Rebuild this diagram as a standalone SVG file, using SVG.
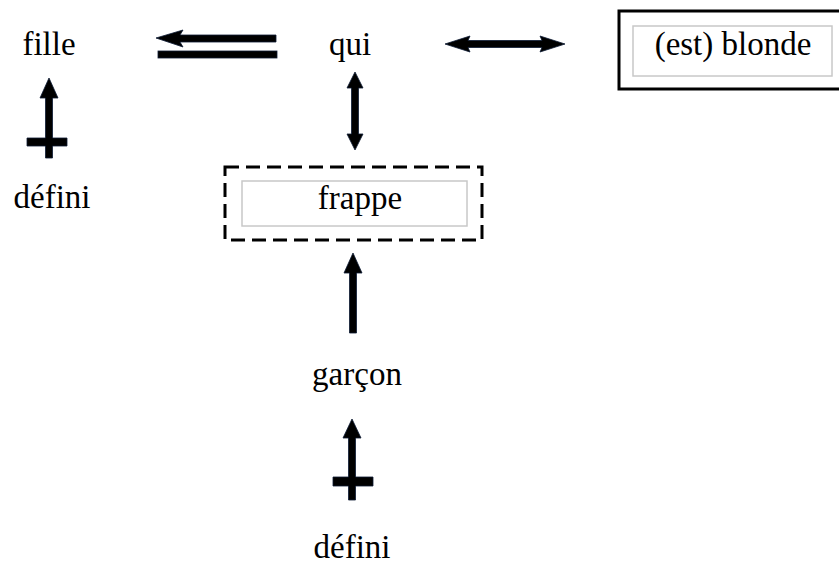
<svg xmlns="http://www.w3.org/2000/svg" width="839" height="565" viewBox="0 0 839 565">
<style>
.inner{fill:none;stroke:#c8c8c8;stroke-width:1.5}
.outer{fill:none;stroke:#000;stroke-width:3}
.dash{fill:none;stroke:#000;stroke-width:3;stroke-dasharray:14 7}
.ar{fill:#000;stroke:#0d1a33;stroke-width:0.8}
.t{font-family:'Liberation Serif','Times New Roman',serif;font-size:33px;text-anchor:middle;fill:#000}
</style>
<rect width="839" height="565" fill="#fff"/>
<g id="connectors">
<path class="ar" d="M156,38 L183,30 L180,35 L276,35 L276,42 L180,42 L183,47 Z"/>
<rect class="ar" x="158" y="51" width="119" height="7"/>
<path class="ar" d="M445,44 L470,36 L468,40.5 L542,40.5 L540,36 L565,44 L540,52 L542,47.5 L468,47.5 L470,52 Z"/>
<path class="ar" d="M355,72 L363,88 L358.5,88 L358.5,134 L363,134 L355,150 L347,134 L351.5,134 L351.5,88 L347,88 Z"/>
<path class="ar" d="M49,78 L58,98 L52.5,98 L52.5,138 L67,138 L67,146 L52.5,146 L52.5,158 L45.5,158 L45.5,146 L27,146 L27,138 L45.5,138 L45.5,98 L40,98 Z"/>
<path class="ar" d="M353,253 L362,273 L356.5,273 L356.5,333 L349.5,333 L349.5,273 L344,273 Z"/>
<path class="ar" d="M352,419 L361,438 L355.5,438 L355.5,477 L373,477 L373,486 L355.5,486 L355.5,500 L348.5,500 L348.5,486 L333,486 L333,477 L348.5,477 L348.5,438 L343,438 Z"/>
</g>
<g id="node-fille"><text class="t" x="49" y="55">fille</text></g>
<g id="node-qui"><text class="t" x="350" y="55">qui</text></g>
<g id="node-blonde">
<path class="outer" d="M900,11 L619,11 L619,89 L900,89"/>
<rect class="inner" x="633" y="26" width="199" height="50"/>
<text class="t" x="733" y="55">(est) blonde</text>
</g>
<g id="node-defini1"><text class="t" x="52" y="208">défini</text></g>
<g id="node-frappe">
<rect class="dash" x="225" y="167" width="257" height="73"/>
<rect class="inner" x="242" y="181" width="225" height="45"/>
<text class="t" x="360" y="209">frappe</text>
</g>
<g id="node-garcon"><text class="t" x="357" y="385">garçon</text></g>
<g id="node-defini2"><text class="t" x="352" y="558">défini</text></g>
</svg>
